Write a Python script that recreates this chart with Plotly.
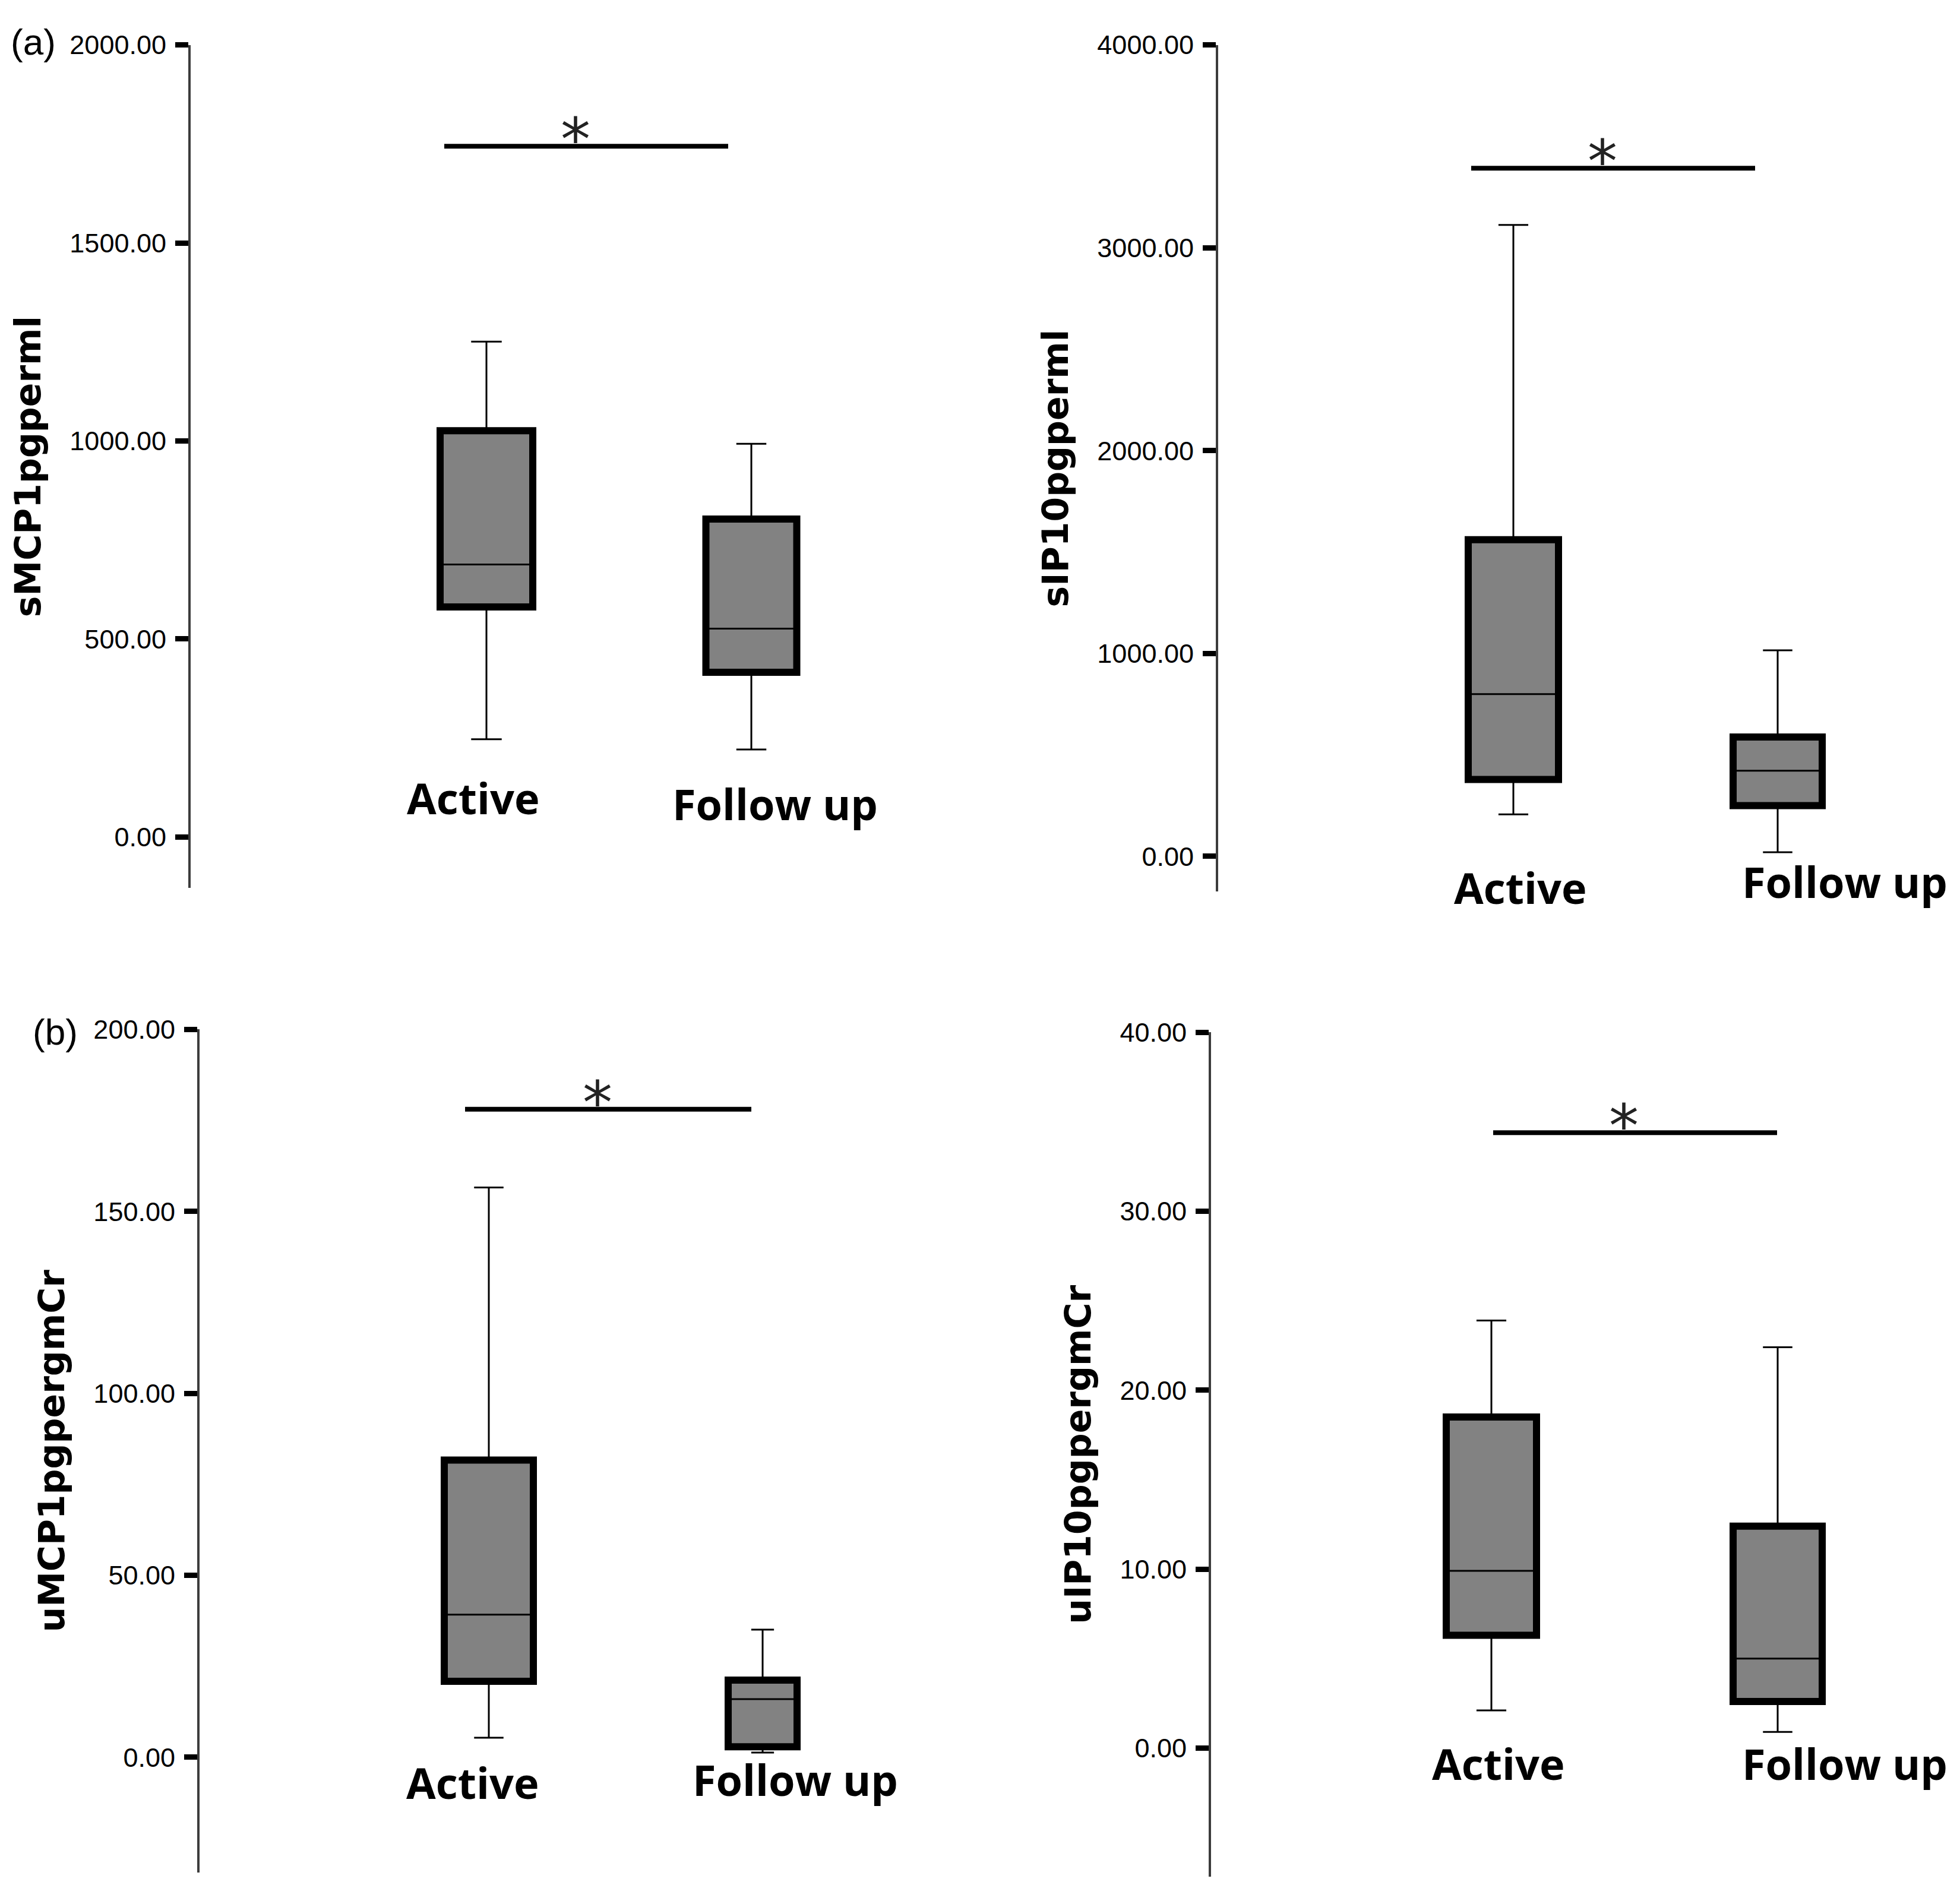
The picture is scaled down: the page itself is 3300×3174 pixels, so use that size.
import plotly.graph_objects as go

W, H = 3300, 3174

CATS = ["Active", "Follow up"]
PANEL_TAGS = ["(a)", "(b)"]
Y_TITLES = ["sMCP1pgperml", "sIP10pgperml", "uMCP1pgpergmCr", "uIP10pgpergmCr"]
Y_TICKS = [
    [0, 500, 1000, 1500, 2000],
    [0, 1000, 2000, 3000, 4000],
    [0, 50, 100, 150, 200],
    [0, 10, 20, 30, 40],
]

# box statistics: [Active, Follow up]
S_MCP1_LO = [247, 221]
S_MCP1_Q1 = [581, 416]
S_MCP1_MED = [688, 526]
S_MCP1_Q3 = [1026, 803]
S_MCP1_HI = [1251, 993]

S_IP10_LO = [207, 20]
S_IP10_Q1 = [379, 250]
S_IP10_MED = [800, 422]
S_IP10_Q3 = [1561, 588]
S_IP10_HI = [3113, 1016]

U_MCP1_LO = [5.4, 1.3]
U_MCP1_Q1 = [20.9, 2.9]
U_MCP1_MED = [39.2, 16.0]
U_MCP1_Q3 = [81.7, 21.2]
U_MCP1_HI = [156.6, 35.1]

U_IP10_LO = [2.1, 0.9]
U_IP10_Q1 = [6.3, 2.6]
U_IP10_MED = [9.9, 5.0]
U_IP10_Q3 = [18.5, 12.4]
U_IP10_HI = [23.9, 22.4]

# height of the significance bar in each panel
SIG_Y = [1744, 3392, 178.1, 34.4]

STATS = [
    (S_MCP1_LO, S_MCP1_Q1, S_MCP1_MED, S_MCP1_Q3, S_MCP1_HI),
    (S_IP10_LO, S_IP10_Q1, S_IP10_MED, S_IP10_Q3, S_IP10_HI),
    (U_MCP1_LO, U_MCP1_Q1, U_MCP1_MED, U_MCP1_Q3, U_MCP1_HI),
    (U_IP10_LO, U_IP10_Q1, U_IP10_MED, U_IP10_Q3, U_IP10_HI),
]

# page layout in pixels
LAYOUT_PX = [
    dict(axis_x=313, right=1600, top=43, bottom=1474, centers=(811, 1257), yr=(-129, 2000),
         box_w=(156, 153), sig=(740, 1218), lab=((788, 1320), (1297, 1330))),
    dict(axis_x=2043, right=3300, top=43, bottom=1480, centers=(2540, 2985), yr=(-174, 4000),
         box_w=(152, 150), sig=(2469, 2947), lab=((2551, 1473), (3098, 1463))),
    dict(axis_x=328, right=1600, top=1714, bottom=3145, centers=(815, 1276), yr=(-31.7, 200),
         box_w=(150, 116), sig=(775, 1257), lab=((787, 2992), (1331, 2987))),
    dict(axis_x=2031, right=3300, top=1719, bottom=3152, centers=(2503, 2985), yr=(-7.2, 40),
         box_w=(152, 150), sig=(2506, 2984), lab=((2514, 2959), (3098, 2959))),
]
TAG_POS = [(48, 38), (85, 1718)]


def py(v):
    return 1 - v / H


GRAY = "#828282"
TICK_FONT = dict(family="Liberation Sans, Arial", size=45, color="black")
TITLE_FONT = dict(family="DejaVu Sans", size=60, color="black", weight="bold")
CAT_FONT = dict(family="Open Sans", size=72, color="black", weight="bold")

fig = go.Figure()
annotations = []

for k, (px, stats) in enumerate(zip(LAYOUT_PX, STATS)):
    n = "" if k == 0 else str(k + 1)
    ppu = px["centers"][1] - px["centers"][0]
    to_data = lambda v: (v - px["centers"][0]) / ppu
    lo, q1, med, q3, hi = stats

    for i, cat in enumerate(CATS):
        wd = px["box_w"][i] / ppu
        fig.add_trace(go.Bar(
            x=[i], y=[q3[i] - q1[i]], base=[q1[i]], width=[wd],
            marker=dict(color=GRAY, line=dict(color="black", width=12)),
            xaxis="x" + n, yaxis="y" + n, showlegend=False, hoverinfo="skip"))
        fig.add_trace(go.Box(
            x=[i], q1=[q1[i]], median=[med[i]], q3=[q3[i]],
            lowerfence=[lo[i]], upperfence=[hi[i]], width=wd, whiskerwidth=0.33,
            fillcolor="rgba(0,0,0,0)", line=dict(color="black", width=3),
            boxpoints=False, name=cat, xaxis="x" + n, yaxis="y" + n, showlegend=False))

        lx, ly = px["lab"][i]
        annotations.append(dict(
            text=cat, x=lx / W, y=py(ly), xref="paper", yref="paper",
            xanchor="center", yanchor="middle", showarrow=False, font=CAT_FONT))

    sx0, sx1 = to_data(px["sig"][0]), to_data(px["sig"][1])
    fig.add_trace(go.Scatter(
        x=[sx0, sx1], y=[SIG_Y[k], SIG_Y[k]], mode="lines",
        line=dict(color="black", width=8), xaxis="x" + n, yaxis="y" + n,
        showlegend=False, hoverinfo="skip"))
    annotations.append(dict(
        text="*", x=(sx0 + sx1) / 2 - 0.04, y=SIG_Y[k], xref="x" + n, yref="y" + n,
        xanchor="center", yanchor="bottom", yshift=-50, showarrow=False,
        font=dict(family="DejaVu Sans", size=100, color="#222")))

    x0 = -(px["centers"][0] - px["axis_x"]) / ppu
    x1 = 1 + (px["right"] - px["centers"][1]) / ppu
    fig.layout["xaxis" + n] = dict(
        domain=[px["axis_x"] / W, px["right"] / W], range=[x0, x1],
        visible=False, anchor="y" + n, fixedrange=True)
    fig.layout["yaxis" + n] = dict(
        domain=[py(px["bottom"]), py(px["top"])], range=list(px["yr"]),
        anchor="x" + n, tickvals=Y_TICKS[k], tickformat=".2f",
        ticks="outside", ticklen=22, tickwidth=9, tickcolor="black",
        ticklabelstandoff=6, tickfont=TICK_FONT,
        showline=True, linecolor="#3c3c3c", linewidth=4,
        showgrid=False, zeroline=False,
        title=dict(text=Y_TITLES[k], font=TITLE_FONT, standoff=30))

for tag, (tx, ty) in zip(PANEL_TAGS, TAG_POS):
    annotations.append(dict(
        text=tag, x=tx / W, y=py(ty), xref="paper", yref="paper",
        xanchor="center", yanchor="middle", showarrow=False,
        font=dict(family="Liberation Sans, Arial", size=62, color="black")))

fig.update_layout(
    width=W, height=H, margin=dict(l=0, r=0, t=0, b=0),
    paper_bgcolor="white", plot_bgcolor="white",
    barmode="overlay", boxmode="overlay",
    annotations=annotations)

fig.write_html("out.html")
